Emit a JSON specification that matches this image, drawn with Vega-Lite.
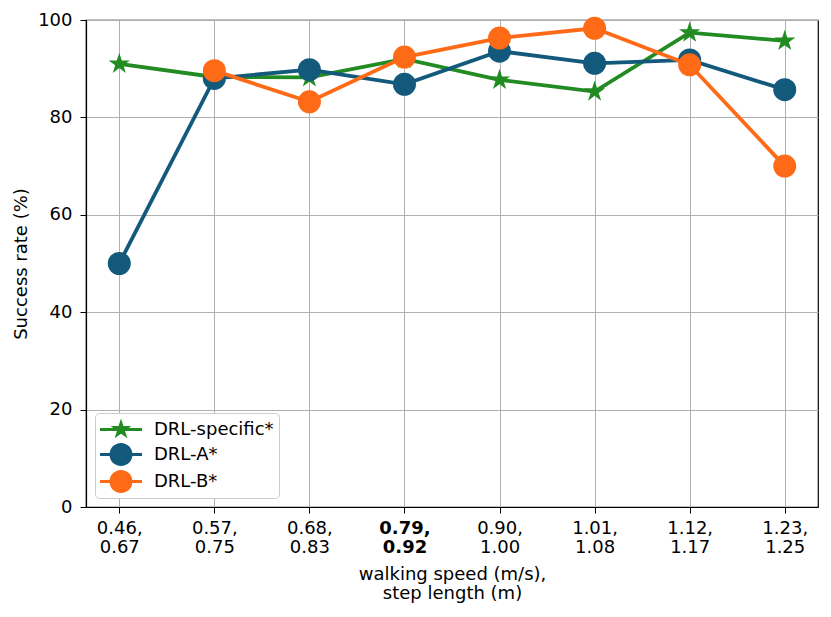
{
  "$schema": "https://vega.github.io/schema/vega-lite/v6.json",
  "autosize": {"type": "none"},
  "width": 732,
  "height": 487,
  "padding": {"left": 86, "top": 20, "right": 13, "bottom": 110},
  "background": "white",
  "config": {
    "font": "DejaVu Sans",
    "view": {"stroke": "#000000", "strokeWidth": 1.2},
    "axis": {
      "domainColor": "#000000",
      "domainWidth": 1.2,
      "tickColor": "#000000",
      "tickSize": 6,
      "tickWidth": 1,
      "labelColor": "#000000",
      "labelFontSize": 18,
      "titleColor": "#000000",
      "titleFontSize": 18,
      "titleFontWeight": "normal",
      "gridColor": "#b0b0b0",
      "gridWidth": 1
    }
  },
  "data": {
    "values": [
      {"x": "0.46, 0.67", "series": "DRL-specific*", "rate": 91.0},
      {"x": "0.57, 0.75", "series": "DRL-specific*", "rate": 88.3},
      {"x": "0.68, 0.83", "series": "DRL-specific*", "rate": 88.2},
      {"x": "0.79, 0.92", "series": "DRL-specific*", "rate": 92.0},
      {"x": "0.90, 1.00", "series": "DRL-specific*", "rate": 87.7},
      {"x": "1.01, 1.08", "series": "DRL-specific*", "rate": 85.3},
      {"x": "1.12, 1.17", "series": "DRL-specific*", "rate": 97.4},
      {"x": "1.23, 1.25", "series": "DRL-specific*", "rate": 95.7},
      {"x": "0.46, 0.67", "series": "DRL-A*", "rate": 50.0},
      {"x": "0.57, 0.75", "series": "DRL-A*", "rate": 88.0},
      {"x": "0.68, 0.83", "series": "DRL-A*", "rate": 89.8},
      {"x": "0.79, 0.92", "series": "DRL-A*", "rate": 86.8},
      {"x": "0.90, 1.00", "series": "DRL-A*", "rate": 93.6},
      {"x": "1.01, 1.08", "series": "DRL-A*", "rate": 91.1},
      {"x": "1.12, 1.17", "series": "DRL-A*", "rate": 91.8},
      {"x": "1.23, 1.25", "series": "DRL-A*", "rate": 85.7},
      {"x": "0.57, 0.75", "series": "DRL-B*", "rate": 89.6},
      {"x": "0.68, 0.83", "series": "DRL-B*", "rate": 83.2},
      {"x": "0.79, 0.92", "series": "DRL-B*", "rate": 92.4},
      {"x": "0.90, 1.00", "series": "DRL-B*", "rate": 96.3},
      {"x": "1.01, 1.08", "series": "DRL-B*", "rate": 98.3},
      {"x": "1.12, 1.17", "series": "DRL-B*", "rate": 90.8},
      {"x": "1.23, 1.25", "series": "DRL-B*", "rate": 70.0}
    ]
  },
  "encoding": {
    "x": {
      "field": "x",
      "type": "ordinal",
      "sort": null,
      "scale": {"type": "point", "padding": 0.35},
      "axis": {
        "title": ["walking speed (m/s),", "step length (m)"],
        "titleLineHeight": 19,
        "titlePadding": 9,
        "labelAngle": 0,
        "labelExpr": "split(datum.value, ' ')",
        "labelLineHeight": 19,
        "labelPadding": 6,
        "labelFontWeight": {"condition": {"test": "datum.value === '0.79, 0.92'", "value": "bold"}, "value": "normal"},
        "grid": true
      }
    },
    "y": {
      "field": "rate",
      "type": "quantitative",
      "scale": {"domain": [0, 100], "nice": false, "zero": true},
      "axis": {"title": "Success rate (%)", "values": [0, 20, 40, 60, 80, 100], "titlePadding": 7, "labelPadding": 8, "grid": true}
    },
    "color": {
      "field": "series",
      "type": "nominal",
      "scale": {"domain": ["DRL-specific*", "DRL-A*", "DRL-B*"], "range": ["#228b22", "#12597c", "#ff6a17"]},
      "legend": {
        "title": null,
        "orient": "bottom-left",
        "offset": 9,
        "fillColor": "white",
        "strokeColor": "#cccccc",
        "cornerRadius": 4,
        "padding": 5,
        "rowPadding": 4,
        "symbolSize": 529,
        "symbolStrokeWidth": 0,
        "labelFontSize": 18,
        "labelColor": "#000000",
        "labelOffset": 31,
        "encode": {
          "symbols": {
            "update": {
              "shape": {"signal": "datum.value === 'DRL-specific*' ? 'M-1.826,-0.128L1.826,-0.128L1.826,0.128L-1.826,0.128Z M0,-0.95L0.2133,-0.2936L0.9035,-0.2936L0.3451,0.1121L0.5586,0.7686L0,0.3629L-0.5586,0.7686L-0.3451,0.1121L-0.9035,-0.2936L-0.2133,-0.2936Z' : 'M-1.826,-0.128L1.826,-0.128L1.826,0.128L-1.826,0.128Z M1,0A1,1 0 1,1 -1,0A1,1 0 1,1 1,0Z'"},
              "x": {"value": 21},
              "fill": {"scale": "color", "field": "value"},
              "stroke": {"value": "transparent"},
              "strokeWidth": {"value": 0},
              "opacity": {"value": 1}
            }
          }
        }
      }
    }
  },
  "layer": [
    {
      "transform": [{"filter": "datum.series === 'DRL-specific*'"}],
      "mark": {
        "type": "line",
        "strokeWidth": 3.8,
        "point": {"shape": "M0,-1L0.2245,-0.309L0.951,-0.309L0.3633,0.118L0.588,0.809L0,0.382L-0.588,0.809L-0.3633,0.118L-0.951,-0.309L-0.2245,-0.309Z", "size": 500, "filled": true, "opacity": 1}
      }
    },
    {
      "transform": [{"filter": "datum.series === 'DRL-A*'"}],
      "mark": {
        "type": "line",
        "strokeWidth": 3.8,
        "point": {"shape": "circle", "size": 529, "filled": true, "opacity": 1}
      }
    },
    {
      "transform": [{"filter": "datum.series === 'DRL-B*'"}],
      "mark": {
        "type": "line",
        "strokeWidth": 3.8,
        "point": {"shape": "circle", "size": 529, "filled": true, "opacity": 1}
      }
    }
  ]
}
